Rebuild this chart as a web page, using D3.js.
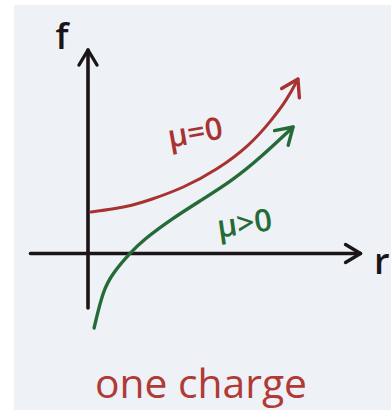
<!DOCTYPE html>
<html>
<head>
<meta charset="utf-8">
<script src="https://cdn.jsdelivr.net/npm/d3@7/dist/d3.min.js"></script>
<style>
  html, body { margin: 0; padding: 0; background: #ffffff; }
  svg { display: block; }
  text { font-family: "Open Sans", "DejaVu Sans", sans-serif; }
</style>
</head>
<body>
<svg id="chart" width="391" height="412"></svg>
<script>
// Sketch of the free energy f versus r for one charge.
// Curve samples (r, f) for the two cases.
const muZeroR = [0.010, 0.086, 0.145, 0.214, 0.328, 0.445, 0.559, 0.628, 0.686, 0.724];
const muZeroF = [0.205, 0.220, 0.235, 0.265, 0.325, 0.415, 0.540, 0.655, 0.765, 0.870];

const muPosR = [0.021, 0.052, 0.086, 0.145, 0.190, 0.293, 0.386, 0.500, 0.593, 0.707];
const muPosF = [-0.375, -0.185, -0.100, 0.000, 0.065, 0.175, 0.260, 0.365, 0.475, 0.630];

// Axis extents in data units
const rAxisExtent = [-0.2, 0.938];
const fAxisExtent = [-0.275, 1.015];

const labels = { f: "f", r: "r", muZero: "\u03bc=0", muPos: "\u03bc>0", title: "one charge" };

const svg = d3.select("#chart");

// paper
svg.append("rect").attr("x", 14).attr("y", 5).attr("width", 377).attr("height", 405)
  .attr("fill", "#eef1f6");

const x = d3.scaleLinear().domain([-0.2, 1.0]).range([30, 378]);
const y = d3.scaleLinear().domain([-0.4, 1.0]).range([333, 53]);

const ink = "#1b1517";
const red = "#a8322f";
const green = "#256b37";

// arrowhead markers
const defs = svg.append("defs");
function marker(id, color, len, spread) {
  defs.append("marker")
    .attr("id", id)
    .attr("markerUnits", "userSpaceOnUse")
    .attr("viewBox", "-30 -20 40 40")
    .attr("markerWidth", 40).attr("markerHeight", 40)
    .attr("refX", 0).attr("refY", 0)
    .attr("orient", "auto")
    .append("path")
    .attr("d", `M${-len},${-spread} L0,0 L${-len},${spread}`)
    .attr("fill", "none").attr("stroke", color)
    .attr("stroke-width", 3.4).attr("stroke-linecap", "round").attr("stroke-linejoin", "round");
}
marker("arrInk", ink, 15, 9);
marker("arrRed", red, 16, 10);
marker("arrGreen", green, 16, 10);

// axes drawn with d3 axis generators (no ticks)
const xAxisScale = x.copy().domain(rAxisExtent).range(rAxisExtent.map(x));
const yAxisScale = y.copy().domain(fAxisExtent).range(fAxisExtent.map(y));

const gx = svg.append("g").attr("transform", `translate(0,${y(0)})`)
  .call(d3.axisBottom(xAxisScale).tickValues([]).tickSizeOuter(0));
gx.select(".domain").attr("stroke", ink).attr("stroke-width", 3.6)
  .attr("stroke-linecap", "round").attr("marker-end", "url(#arrInk)");

const gy = svg.append("g").attr("transform", `translate(${x(0)},0)`)
  .call(d3.axisLeft(yAxisScale).tickValues([]).tickSizeOuter(0));
gy.select(".domain").attr("stroke", ink).attr("stroke-width", 3.6)
  .attr("stroke-linecap", "round")
  .attr("d", `M0,${yAxisScale(fAxisExtent[0])}V${yAxisScale(fAxisExtent[1])}`)
  .attr("marker-end", "url(#arrInk)");

// curves
const line = d3.line().x(d => x(d[0])).y(d => y(d[1])).curve(d3.curveBasis);

svg.append("path").datum(d3.zip(muZeroR, muZeroF))
  .attr("d", line).attr("fill", "none").attr("stroke", red).attr("stroke-width", 3)
  .attr("stroke-linecap", "round").attr("marker-end", "url(#arrRed)");

svg.append("path").datum(d3.zip(muPosR, muPosF))
  .attr("d", line).attr("fill", "none").attr("stroke", green).attr("stroke-width", 3.4)
  .attr("stroke-linecap", "round").attr("marker-end", "url(#arrGreen)");

// axis labels
svg.append("text").attr("x", 62).attr("y", 49).attr("text-anchor", "middle")
  .attr("font-size", 36).attr("font-weight", 600).attr("fill", ink).text(labels.f);
svg.append("text").attr("x", 374).attr("y", 274)
  .attr("font-size", 36).attr("font-weight", 600).attr("fill", ink).text(labels.r);

// curve labels
svg.append("text").attr("transform", "translate(197,143) rotate(-10)")
  .attr("text-anchor", "middle").attr("font-size", 31).attr("font-weight", 600)
  .attr("fill", red).text(labels.muZero);
svg.append("text").attr("transform", "translate(246,234) rotate(-8)")
  .attr("text-anchor", "middle").attr("font-size", 31).attr("font-weight", 600)
  .attr("fill", green).text(labels.muPos);

// caption
svg.append("text").attr("x", 95).attr("y", 398)
  .attr("textLength", 212).attr("lengthAdjust", "spacingAndGlyphs")
  .attr("font-size", 40).attr("fill", "#b03a36").text(labels.title);
</script>
</body>
</html>
